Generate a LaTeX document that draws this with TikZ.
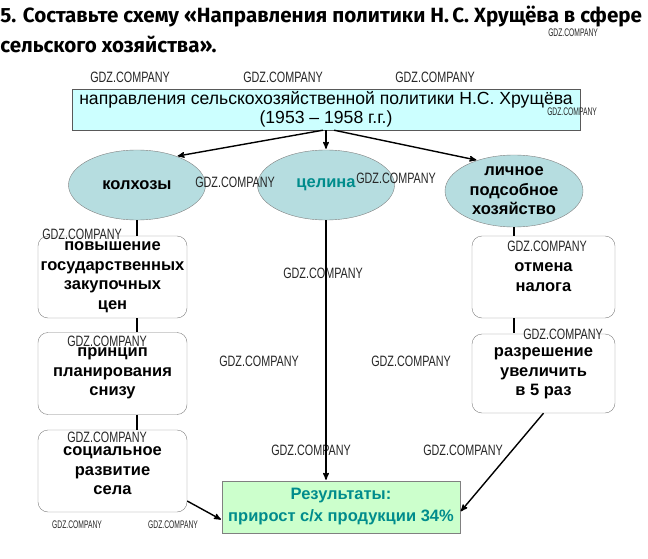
\documentclass[tikz,border=0pt]{standalone}
\usepackage{fontspec}
\setmainfont{Liberation Sans}
\newfontfamily\titlefont{Fira Sans}
\usepackage{tikz}
\usetikzlibrary{arrows,shapes.geometric}
\definecolor{topfill}{RGB}{204,255,255}
\definecolor{ellfill}{RGB}{182,221,224}
\definecolor{resfill}{RGB}{204,255,204}
\definecolor{tealtext}{RGB}{0,140,140}

\begin{document}
\begin{tikzpicture}[x=1pt,y=-1pt,->,>=stealth',shorten >=1pt,auto,node distance=96.5pt,
							thick,main node/.style={ellipse,draw=gray,fill=ellfill,thin,inner sep=0pt,minimum width=137pt,minimum height=70pt,align=center,font=\bfseries\fontsize{16.5}{19.5}\selectfont},
							box node/.style={rectangle,rounded corners=10pt,draw=gray,thin,fill=white,inner sep=0pt,minimum width=149pt,minimum height=82pt,align=center,font=\bfseries\fontsize{16.5}{19.5}\selectfont},
							wm node/.style={anchor=north west,inner sep=0pt,xscale=0.72,text=black!85,font=\fontsize{15}{15}\selectfont},
							wm small/.style={wm node,xscale=0.85,font=\fontsize{11}{11}\selectfont}]
							
							\useasboundingbox (0,0) rectangle (648,559);
							
							\node[anchor=north west,align=left,inner sep=0pt,font=\titlefont\bfseries\fontsize{20.6}{30}\selectfont] (0) at (0,6)
							     {5. Составьте схему «Направления политики Н.\,С. Хрущёва в сфере\\сельского хозяйства».};
							\node[rectangle,draw=gray!70!black,fill=topfill,thin,minimum width=508pt,minimum height=41pt,inner sep=0pt,align=center,font=\fontsize{17.6}{19.5}\selectfont] (1) at (326,109.5)
							     {направления сельскохозяйственной политики Н.С. Хрущёва\\(1953 -- 1958 г.г.)};
							\node[main node] (2) at (137,185) {колхозы};
							\node[main node,text=tealtext] (3) [right of=2,node distance=189pt] {целина};
							\node[main node,minimum width=138pt,minimum height=72pt] (4) at (514,191) {личное\\подсобное\\хозяйство};
							\node[box node] (5) at (112.5,277) {повышение\\государственных\\закупочных\\цен};
							\node[box node] (6) [below of=5] {принцип\\планирования\\снизу};
							\node[box node] (7) [below of=6,node distance=97.5pt] {социальное\\развитие\\села};
							\node[box node,minimum width=143pt] (8) at (543.5,277) {отмена\\налога};
							\node[box node,minimum width=143pt,minimum height=79pt] (9) [below of=8] {разрешение\\увеличить\\в 5 раз};
							\node[rectangle,draw=gray,fill=resfill,thin,minimum width=238pt,minimum height=52pt,inner sep=0pt,align=center,text=tealtext,font=\bfseries\fontsize{16.5}{22}\selectfont] (10) at (341,507)
							     {Результаты:\\прирост с/х продукции 34\%};
							
							% watermarks
							\foreach \x/\y [count=\i] in {90/72,243/72,395/72,195/177,356/173,42/229,507/241,283/268,523/329,67/336,219/356,371/356,67/432,271/445,423/445}
							    \node[wm node] (w\i) at (\x,\y) {GDZ.COMPANY};
							\foreach \x/\y [count=\i] in {548/28,547/107,52/520,148/520}
							    \node[wm small] (s\i) at (\x,\y) {GDZ.COMPANY};
							
							\draw[-,line width=1.6pt]
							    (2.south) -- (2.south |- 5.north)
							    (2.south |- 5.south) -- (2.south |- 6.north)
							    (2.south |- 6.south) -- (2.south |- 7.north)
							    (4.south) -- (4.south |- 8.north)
							    (4.south |- 8.south) -- (4.south |- 9.north);
							\path[->,line width=1.4pt]
							    ([xshift=-3pt]1.south) edge (2.36)
							    (1) edge (3)
							    ([xshift=8pt]1.south) edge (4.140)
							    (3) edge (3.south |- 10.north)
							    ([yshift=-30pt]7.east) edge ([yshift=-13pt]10.west)
							    (9.south) edge ([yshift=-5pt]10.east);
						\end{tikzpicture}
\end{document}
